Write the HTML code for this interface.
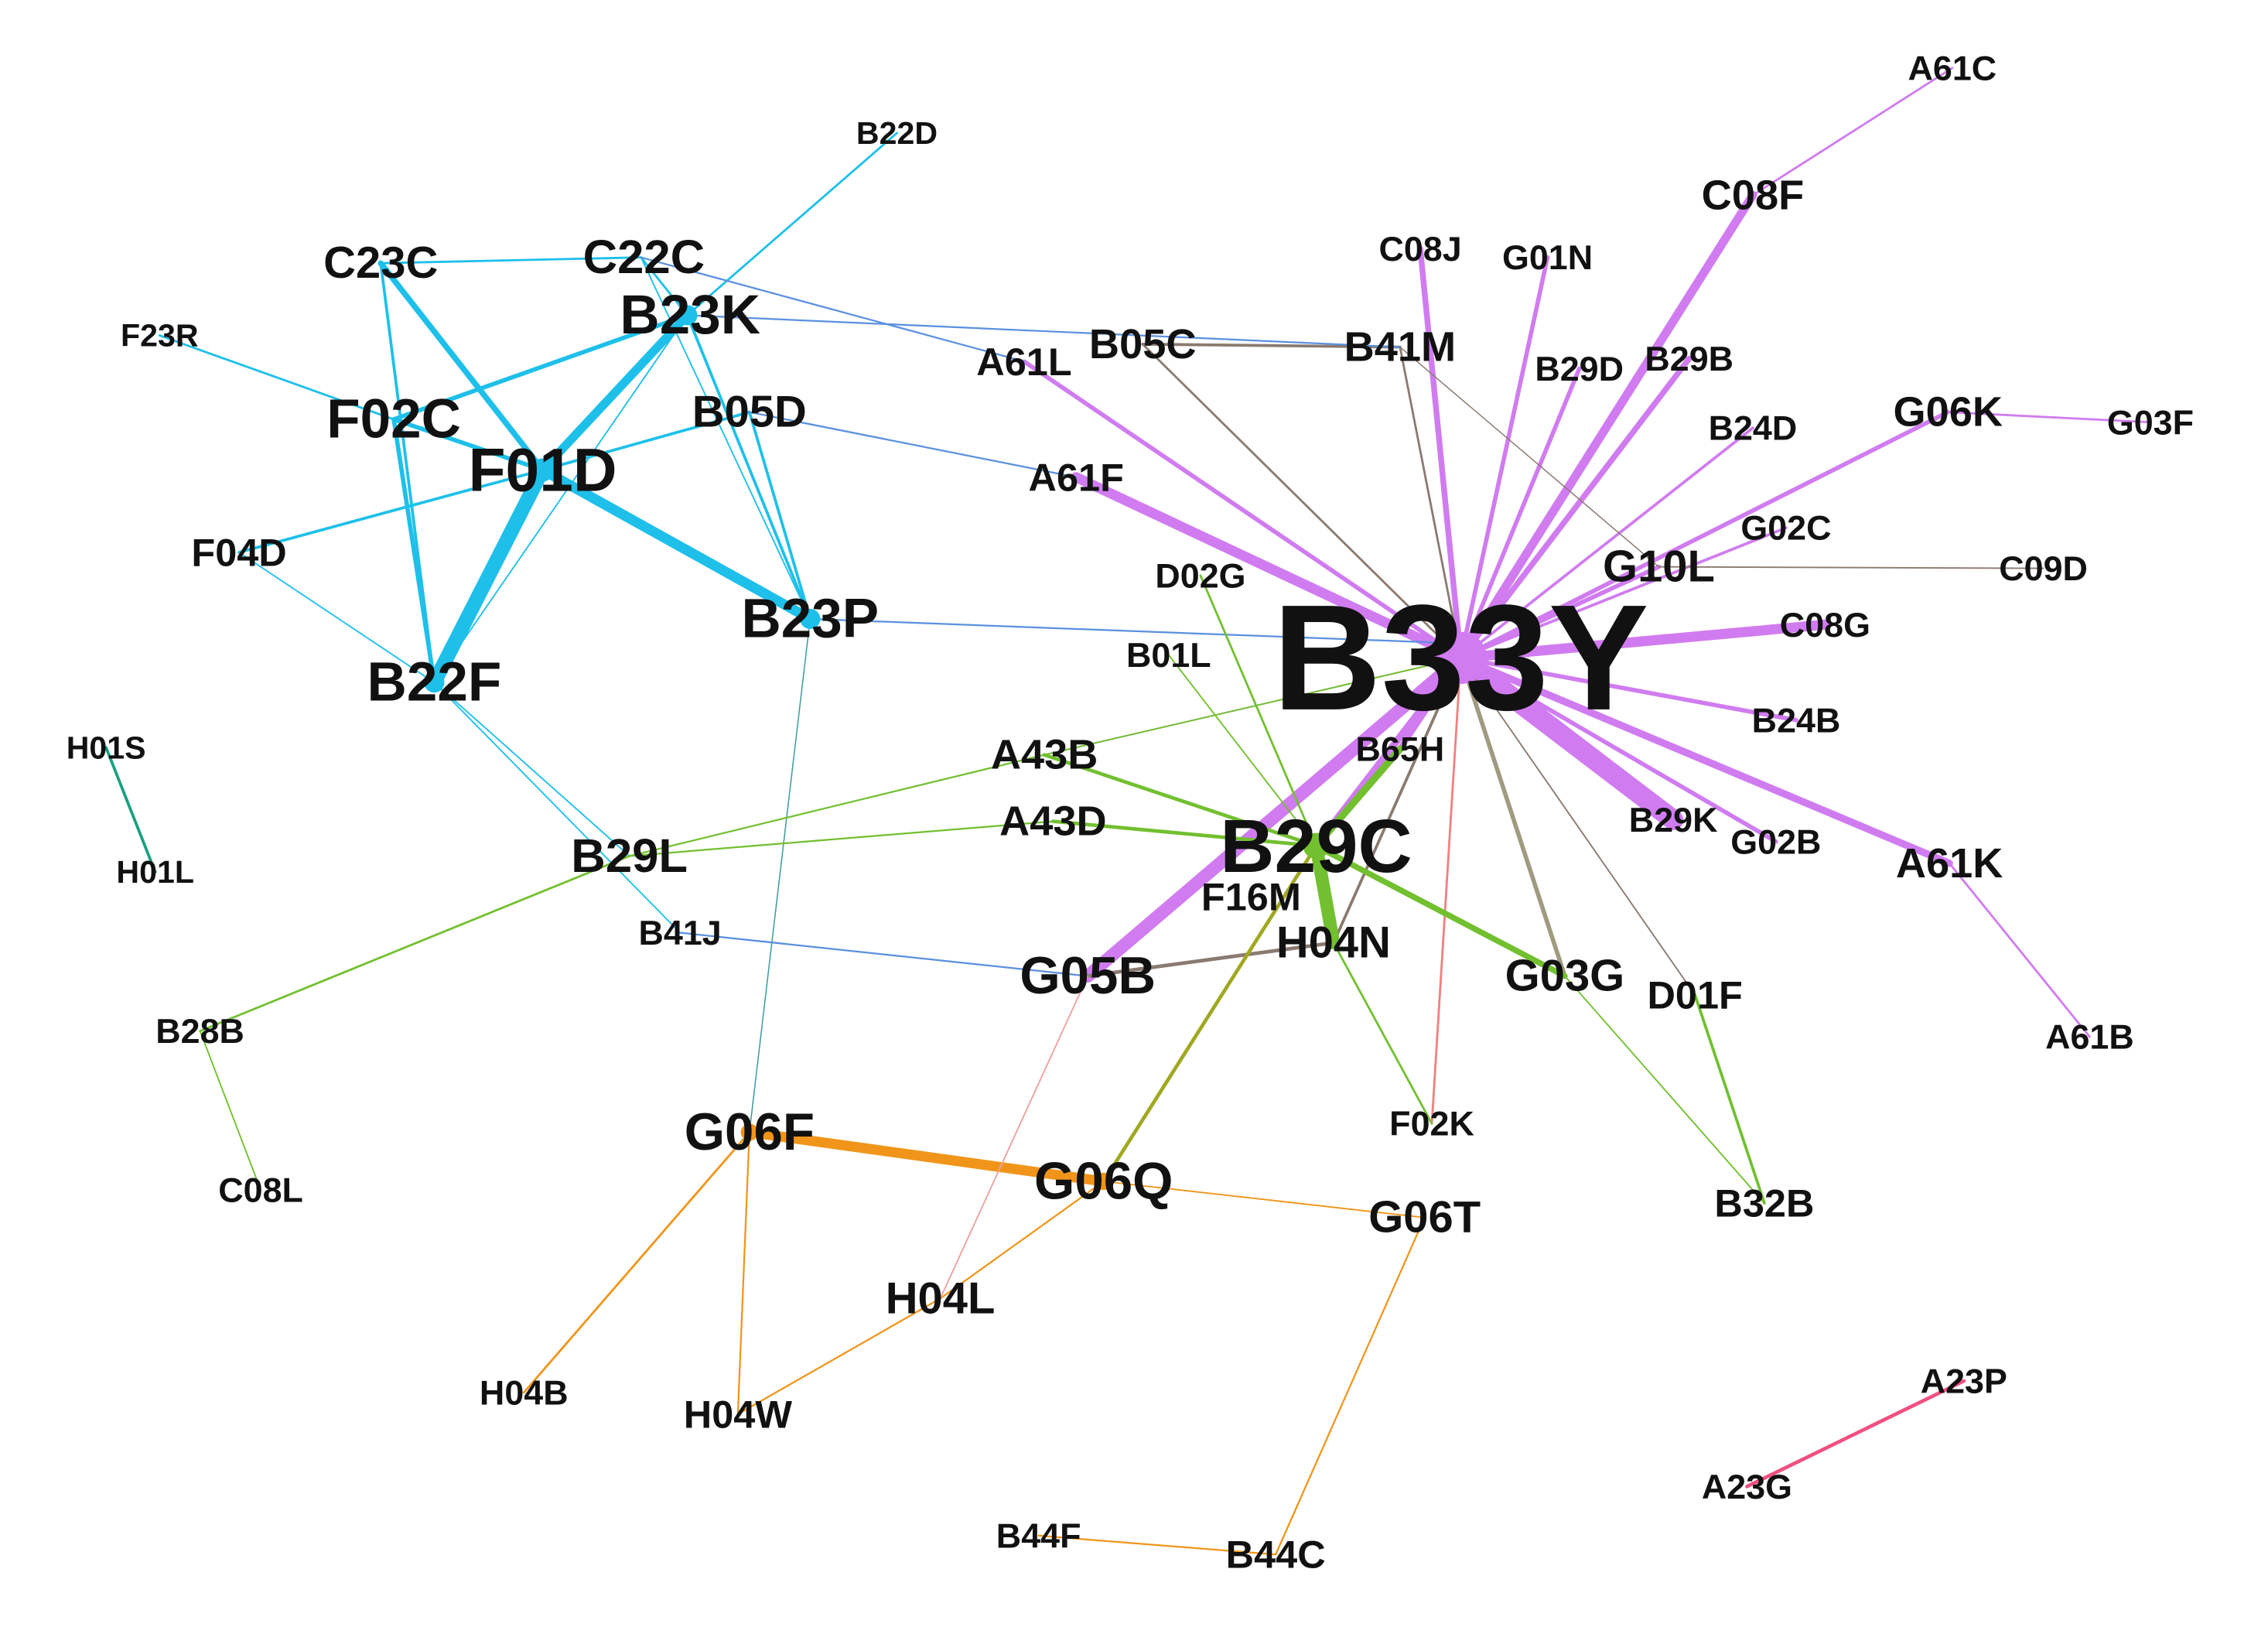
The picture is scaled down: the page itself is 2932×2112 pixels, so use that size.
<!DOCTYPE html>
<html><head><meta charset="utf-8"><style>
html,body{margin:0;padding:0;background:#fff}
svg{display:block}
text{font-family:"Liberation Sans",Arial,sans-serif;font-weight:bold;fill:#111;text-anchor:middle;dominant-baseline:central}
</style></head><body>
<svg width="2932" height="2112" viewBox="0 0 1568 1130" xmlns="http://www.w3.org/2000/svg">
<rect width="1568" height="1130" fill="#fff"/>
<g stroke-linecap="round" fill="none">
<g stroke="#d07cf0">
<line x1="1010" y1="455" x2="708" y2="250" stroke-width="3"/>
<line x1="1010" y1="455" x2="744" y2="330" stroke-width="7"/>
<line x1="1010" y1="455" x2="1212" y2="135" stroke-width="6"/>
<line x1="1212" y1="135" x2="1350" y2="47" stroke-width="1.5"/>
<line x1="1010" y1="455" x2="982" y2="172" stroke-width="4"/>
<line x1="1010" y1="455" x2="1070" y2="178" stroke-width="3"/>
<line x1="1010" y1="455" x2="1092" y2="255" stroke-width="3"/>
<line x1="1010" y1="455" x2="1168" y2="248" stroke-width="4"/>
<line x1="1010" y1="455" x2="1212" y2="296" stroke-width="2"/>
<line x1="1010" y1="455" x2="1347" y2="285" stroke-width="3"/>
<line x1="1347" y1="285" x2="1487" y2="292" stroke-width="1.5"/>
<line x1="1010" y1="455" x2="1235" y2="365" stroke-width="2"/>
<line x1="1010" y1="455" x2="1147" y2="392" stroke-width="3"/>
<line x1="1010" y1="455" x2="1262" y2="432" stroke-width="7"/>
<line x1="1010" y1="455" x2="1242" y2="498" stroke-width="3"/>
<line x1="1010" y1="455" x2="1157" y2="567" stroke-width="14"/>
<line x1="1010" y1="455" x2="1228" y2="582" stroke-width="3"/>
<line x1="1010" y1="455" x2="1348" y2="597" stroke-width="5"/>
<line x1="1348" y1="597" x2="1445" y2="717" stroke-width="1.5"/>
<line x1="1010" y1="455" x2="752" y2="675" stroke-width="9"/>
<line x1="1010" y1="455" x2="910" y2="585" stroke-width="5"/>
<line x1="1010" y1="455" x2="968" y2="518" stroke-width="4"/>
</g>
<g stroke="#8a7a70" stroke-width="1.5">
<line x1="1010" y1="455" x2="790" y2="238"/>
<line x1="790" y1="238" x2="968" y2="240" stroke-width="2"/>
<line x1="1010" y1="455" x2="968" y2="240"/>
<line x1="968" y1="240" x2="1147" y2="392" stroke-width="0.8"/>
<line x1="1147" y1="392" x2="1413" y2="393" stroke-width="1"/>
<line x1="1010" y1="455" x2="722" y2="522" stroke-width="1"/>
<line x1="1010" y1="455" x2="922" y2="652" stroke-width="2"/>
<line x1="1010" y1="455" x2="1082" y2="675" stroke-width="3" stroke="#a09a80"/>
<line x1="1010" y1="455" x2="1172" y2="688" stroke-width="1"/>
<line x1="922" y1="652" x2="752" y2="675" stroke-width="2.5"/>
</g>
<line x1="1010" y1="455" x2="990" y2="777" stroke="#f08080" stroke-width="1.5"/>
<g stroke="#1ec0ea">
<line x1="375" y1="325" x2="300" y2="472" stroke-width="10"/>
<line x1="375" y1="325" x2="475" y2="218" stroke-width="6"/>
<line x1="375" y1="325" x2="560" y2="428" stroke-width="7"/>
<line x1="375" y1="325" x2="272" y2="290" stroke-width="3"/>
<line x1="375" y1="325" x2="165" y2="382" stroke-width="2"/>
<line x1="375" y1="325" x2="518" y2="285" stroke-width="2"/>
<line x1="375" y1="325" x2="263" y2="182" stroke-width="4"/>
<line x1="263" y1="182" x2="443" y2="178" stroke-width="1.5"/>
<line x1="263" y1="182" x2="300" y2="472" stroke-width="2"/>
<line x1="443" y1="178" x2="475" y2="218" stroke-width="1.5"/>
<line x1="443" y1="178" x2="560" y2="428" stroke-width="1"/>
<line x1="475" y1="218" x2="620" y2="92" stroke-width="1.5"/>
<line x1="475" y1="218" x2="272" y2="290" stroke-width="3"/>
<line x1="272" y1="290" x2="110" y2="232" stroke-width="1.5"/>
<line x1="272" y1="290" x2="300" y2="472" stroke-width="3"/>
<line x1="165" y1="382" x2="300" y2="472" stroke-width="1"/>
<line x1="300" y1="472" x2="435" y2="592" stroke-width="1"/>
<line x1="300" y1="472" x2="470" y2="645" stroke-width="1"/>
<line x1="475" y1="218" x2="560" y2="428" stroke-width="2"/>
<line x1="518" y1="285" x2="560" y2="428" stroke-width="2"/>
<line x1="475" y1="218" x2="300" y2="472" stroke-width="1"/>
</g>
<g stroke="#5a90e0" stroke-width="1.2">
<line x1="475" y1="218" x2="968" y2="240"/>
<line x1="443" y1="178" x2="708" y2="250"/>
<line x1="518" y1="285" x2="744" y2="330"/>
<line x1="560" y1="428" x2="1010" y2="445"/>
<line x1="470" y1="645" x2="752" y2="675"/>
</g>
<line x1="560" y1="428" x2="518" y2="783" stroke="#3a9a9a" stroke-width="0.8"/>
<line x1="73" y1="517" x2="107" y2="603" stroke="#18a080" stroke-width="2"/>
<g stroke="#72c030">
<line x1="910" y1="585" x2="722" y2="522" stroke-width="2.5"/>
<line x1="910" y1="585" x2="728" y2="568" stroke-width="2.5"/>
<line x1="910" y1="585" x2="922" y2="652" stroke-width="9"/>
<line x1="910" y1="585" x2="1082" y2="675" stroke-width="4"/>
<line x1="910" y1="585" x2="968" y2="518" stroke-width="5"/>
<line x1="910" y1="585" x2="830" y2="398" stroke-width="1.5"/>
<line x1="910" y1="585" x2="808" y2="453" stroke-width="1"/>
<line x1="722" y1="522" x2="435" y2="592" stroke-width="1.2"/>
<line x1="728" y1="568" x2="435" y2="592" stroke-width="1.2"/>
<line x1="435" y1="592" x2="138" y2="713" stroke-width="1.5"/>
<line x1="138" y1="713" x2="180" y2="823" stroke-width="1"/>
<line x1="922" y1="652" x2="990" y2="777" stroke-width="1.5"/>
<line x1="1172" y1="688" x2="1220" y2="832" stroke-width="2"/>
<line x1="1082" y1="675" x2="1220" y2="832" stroke-width="1"/>
<line x1="722" y1="522" x2="1010" y2="455" stroke-width="1"/>
</g>
<line x1="910" y1="585" x2="763" y2="817" stroke="#a0a820" stroke-width="2.5"/>
<g stroke="#f0951a">
<line x1="518" y1="783" x2="763" y2="817" stroke-width="7"/>
<line x1="518" y1="783" x2="362" y2="963" stroke-width="1.5"/>
<line x1="518" y1="783" x2="510" y2="978" stroke-width="1.2"/>
<line x1="510" y1="978" x2="650" y2="898" stroke-width="1.2"/>
<line x1="650" y1="898" x2="763" y2="817" stroke-width="1.2"/>
<line x1="763" y1="817" x2="985" y2="842" stroke-width="1"/>
<line x1="985" y1="842" x2="882" y2="1075" stroke-width="1.2"/>
<line x1="718" y1="1062" x2="882" y2="1075" stroke-width="1.2"/>
</g>
<line x1="752" y1="675" x2="650" y2="898" stroke="#f0a0a0" stroke-width="1"/>
<line x1="1358" y1="955" x2="1208" y2="1028" stroke="#f05080" stroke-width="2.5"/>
</g>
<g>
<circle cx="1010" cy="455" r="18" fill="#d07cf0"/>
<circle cx="910" cy="585" r="9" fill="#72c030"/>
<circle cx="375" cy="325" r="8" fill="#1ec0ea"/>
<circle cx="475" cy="218" r="7" fill="#1ec0ea"/>
<circle cx="560" cy="428" r="7" fill="#1ec0ea"/>
<circle cx="300" cy="472" r="7" fill="#1ec0ea"/>
<circle cx="518" cy="783" r="6" fill="#f0951a"/>
<circle cx="763" cy="817" r="6" fill="#f0951a"/>
</g>
<g>
<text x="1010" y="455" font-size="104">B33Y</text>
<text x="910" y="585" font-size="52">B29C</text>
<text x="375" y="325" font-size="42">F01D</text>
<text x="477" y="218" font-size="38">B23K</text>
<text x="560" y="428" font-size="38">B23P</text>
<text x="300" y="472" font-size="38">B22F</text>
<text x="272" y="290" font-size="38">F02C</text>
<text x="445" y="178" font-size="33">C22C</text>
<text x="263" y="182" font-size="31">C23C</text>
<text x="518" y="285" font-size="31">B05D</text>
<text x="165" y="382" font-size="27">F04D</text>
<text x="110" y="232" font-size="22">F23R</text>
<text x="620" y="92" font-size="22">B22D</text>
<text x="73" y="517" font-size="22">H01S</text>
<text x="107" y="603" font-size="22">H01L</text>
<text x="435" y="592" font-size="33">B29L</text>
<text x="470" y="645" font-size="24">B41J</text>
<text x="138" y="713" font-size="24">B28B</text>
<text x="180" y="823" font-size="24">C08L</text>
<text x="722" y="522" font-size="29">A43B</text>
<text x="728" y="568" font-size="29">A43D</text>
<text x="752" y="675" font-size="36">G05B</text>
<text x="865" y="620" font-size="27">F16M</text>
<text x="922" y="652" font-size="31">H04N</text>
<text x="1082" y="675" font-size="31">G03G</text>
<text x="1172" y="688" font-size="27">D01F</text>
<text x="990" y="777" font-size="24">F02K</text>
<text x="1220" y="832" font-size="27">B32B</text>
<text x="518" y="783" font-size="36">G06F</text>
<text x="763" y="817" font-size="36">G06Q</text>
<text x="985" y="842" font-size="31">G06T</text>
<text x="650" y="898" font-size="31">H04L</text>
<text x="362" y="963" font-size="24">H04B</text>
<text x="510" y="978" font-size="27">H04W</text>
<text x="718" y="1062" font-size="24">B44F</text>
<text x="882" y="1075" font-size="27">B44C</text>
<text x="1358" y="955" font-size="24">A23P</text>
<text x="1208" y="1028" font-size="24">A23G</text>
<text x="1350" y="47" font-size="24">A61C</text>
<text x="1212" y="135" font-size="29">C08F</text>
<text x="982" y="172" font-size="24">C08J</text>
<text x="1070" y="178" font-size="24">G01N</text>
<text x="790" y="238" font-size="29">B05C</text>
<text x="968" y="240" font-size="29">B41M</text>
<text x="708" y="250" font-size="27">A61L</text>
<text x="1092" y="255" font-size="24">B29D</text>
<text x="1168" y="248" font-size="24">B29B</text>
<text x="1212" y="296" font-size="24">B24D</text>
<text x="1347" y="285" font-size="29">G06K</text>
<text x="1487" y="292" font-size="24">G03F</text>
<text x="744" y="330" font-size="27">A61F</text>
<text x="1235" y="365" font-size="24">G02C</text>
<text x="1147" y="392" font-size="31">G10L</text>
<text x="1413" y="393" font-size="24">C09D</text>
<text x="830" y="398" font-size="24">D02G</text>
<text x="1262" y="432" font-size="24">C08G</text>
<text x="808" y="453" font-size="24">B01L</text>
<text x="1242" y="498" font-size="24">B24B</text>
<text x="968" y="518" font-size="24">B65H</text>
<text x="1157" y="567" font-size="24">B29K</text>
<text x="1228" y="582" font-size="24">G02B</text>
<text x="1348" y="597" font-size="29">A61K</text>
<text x="1445" y="717" font-size="24">A61B</text>
</g>
</svg>
</body></html>
